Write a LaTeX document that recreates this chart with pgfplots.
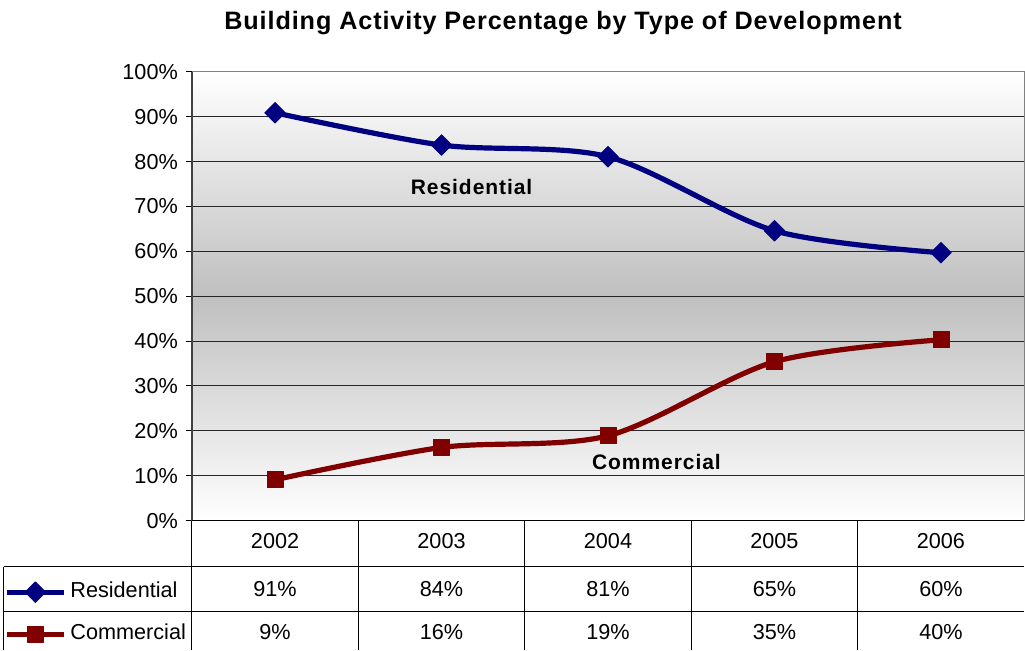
\documentclass[border=0pt]{standalone}
\usepackage{fontspec}
\setmainfont{Liberation Sans}
\newfontface\titlefont{Liberation Sans Bold}[LetterSpace=3.6]
\newfontface\lblfont{Liberation Sans Bold}[LetterSpace=4.5]
\usepackage{pgfplots}
\pgfplotsset{compat=1.18}
\definecolor{resblue}{RGB}{0,0,128}
\definecolor{comred}{RGB}{128,0,0}
\newcommand\cellfont{\fontsize{16.25pt}{18pt}\selectfont}
\begin{document}
\begin{tikzpicture}
\begin{scope}[x=0.75pt,y=-0.75pt]
\useasboundingbox (0,0) rectangle (1025,651);
\end{scope}
\begin{axis}[
  at={(144pt,-390.75pt)}, anchor=south west,
  scale only axis, width=624.75pt, height=336.75pt,
  xmin=-0.5, xmax=4.5, ymin=0, ymax=100,
  xtick=\empty,
  ytick={0,10,...,100},
  yticklabels={0\%,10\%,20\%,30\%,40\%,50\%,60\%,70\%,80\%,90\%,100\%},
  ytick pos=left,
  tick align=outside, major tick length=4.5pt,
  tick style={black, line width=0.75pt},
  yticklabel style={font=\cellfont, xshift=-2.5pt},
  axis line style={draw=none},
  ymajorgrids, grid style={black!85, line width=0.75pt},
  axis background/.style={top color=white, bottom color=white, middle color=black!25},
  legend style={at={(axis description cs:-0.2257,-0.1359)}, anchor=north west,
    draw=none, fill=none, inner sep=0pt, row sep=16.5pt, column sep=3pt,
    font=\cellfont, nodes={inner sep=0pt, text height=11.5pt, text depth=3.5pt}},
  legend cell align=left,
  legend image code/.code={
    \draw[mark repeat=2,mark phase=2,#1] plot coordinates {(0pt,0pt) (21.4pt,0pt) (42.75pt,0pt)};
  },
  after end axis/.code={
    \draw[gray, line width=0.75pt] (rel axis cs:0,1) -- (rel axis cs:1,1) -- (rel axis cs:1,0);
    \draw[black!75, line width=1.3pt] (rel axis cs:0,0) -- (rel axis cs:0,1);
    \draw[black, line width=1.3pt] (rel axis cs:0,0) -- (rel axis cs:1,0);
  },
]
\addplot[resblue, line width=3.9pt, smooth, line join=round,
  mark=square*, mark size=5.5pt, mark options={rotate=45, line width=0.5pt, solid}]
  coordinates {(0,90.9) (1,83.7) (2,81.1) (3,64.6) (4,59.7)};
\addlegendentry{Residential}
\addplot[comred, line width=3.9pt, smooth, line join=round,
  mark=square*, mark size=6pt, mark options={line width=0.5pt, solid}]
  coordinates {(0,9.1) (1,16.3) (2,18.9) (3,35.4) (4,40.3)};
\addlegendentry{Commercial}
\end{axis}
\begin{scope}[x=0.75pt,y=-0.75pt]
% data table grid
\draw[black, line width=0.75pt] (4,567) -- (1025,567);
\draw[black, line width=0.75pt] (4,612) -- (1025,612);
\draw[black, line width=0.75pt] (4,567) -- (4,651);
\foreach \xx in {192,358.6,525.2,691.8,858.4}
  \draw[black, line width=0.75pt] (\xx,521) -- (\xx,651);
% title and series labels
\node[anchor=base, font=\titlefont\fontsize{18.9pt}{22pt}\selectfont] at (563.5,29.5)
  {Building Activity Percentage by Type of Development};
\node[anchor=base, font=\lblfont\fontsize{15.75pt}{18pt}\selectfont] at (472,195) {Residential};
\node[anchor=base, font=\lblfont\fontsize{15.75pt}{18pt}\selectfont] at (657,470) {Commercial};
% table: years and values
\begin{scope}[every node/.style={anchor=base, font=\cellfont}]
\node at (275.3,549) {2002};
\node at (441.9,549) {2003};
\node at (608.5,549) {2004};
\node at (775.1,549) {2005};
\node at (941.7,549) {2006};
\node at (275.3,597) {91\%};
\node at (441.9,597) {84\%};
\node at (608.5,597) {81\%};
\node at (775.1,597) {65\%};
\node at (941.7,597) {60\%};
\node at (275.3,640) {9\%};
\node at (441.9,640) {16\%};
\node at (608.5,640) {19\%};
\node at (775.1,640) {35\%};
\node at (941.7,640) {40\%};
\end{scope}
\end{scope}
\end{tikzpicture}
\end{document}
